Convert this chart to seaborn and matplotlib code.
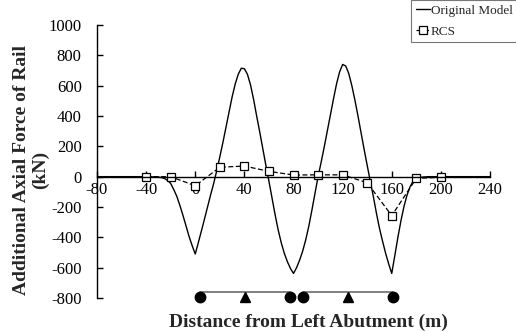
import numpy as np
import pandas as pd
import matplotlib
matplotlib.use("Agg")
import matplotlib.pyplot as plt
import seaborn as sns

# Original Model curve
orig_x = [-80, -40, -30, -27.5, -25, -22.5, -20, -17.5, -15, -12.5, -10, -7.5, -5, -2.5,
          0, 2.5, 5, 7.5, 10, 12.5, 15, 17.5, 20, 22.5, 25, 27.5, 30, 32.5, 35, 37.5,
          40, 42.5, 45, 47.5, 50, 52.5, 55, 57.5, 60, 62.5, 65, 67.5, 70, 72.5, 75, 77.5,
          80, 82.5, 85, 87.5, 90, 92.5, 95, 97.5, 100, 102.5, 105, 107.5, 110, 112.5, 115, 117.5,
          120, 122.5, 125, 127.5, 130, 132.5, 135, 137.5, 140, 142.5, 145, 147.5, 150, 152.5, 155, 157.5,
          160, 162.5, 165, 167.5, 170, 172.5, 175, 177.5, 180, 185, 190, 240]
orig_y = [0, 0, -3, -6, -12, -25, -45, -85, -130, -190, -255, -325, -395, -455,
          -510, -435, -358, -280, -200, -120, -45, 40, 130, 225, 325, 425, 525, 610, 675, 715,
          712, 675, 605, 510, 400, 295, 185, 75, -30, -140, -250, -350, -435, -505, -560, -605,
          -638, -600, -550, -490, -415, -325, -220, -110, 0, 95, 195, 300, 405, 510, 610, 690,
          740, 730, 680, 600, 505, 400, 290, 180, 75, -30, -130, -240, -340, -425, -505, -575,
          -638, -520, -400, -290, -195, -120, -65, -28, -10, -3, 0, 0]

# RCS points
rcs_x = [-40, -20, 0, 20, 40, 60, 80, 100, 120, 140, 160, 180, 200]
rcs_y = [0, 0, -60, 62, 70, 35, 11, 12, 12, -40, -257, -11, -4]

# bridge sketch along the bottom
pier_x = [4, 77, 88, 161]
bearing_x = [40.5, 124.5]
span_ends = [(4, 77), (88, 161)]

sns.set_style("ticks")
plt.rcParams['font.family'] = ['Liberation Serif', 'DejaVu Serif']
plt.rcParams['axes.unicode_minus'] = False

fig = plt.figure(figsize=(5.16, 3.32), dpi=100)
ax = fig.add_axes([97 / 516, 34 / 332, 393 / 516, 273 / 332])

sns.lineplot(x=orig_x, y=orig_y, ax=ax, color='black', linewidth=1.0,
             label='Original Model', legend=False)
sns.lineplot(x=rcs_x, y=rcs_y, ax=ax, color='black', linewidth=0.9,
             linestyle=(0, (4, 2)), marker='s', markersize=6,
             markerfacecolor='white', markeredgecolor='black', markeredgewidth=0.9,
             label='RCS', legend=False)

for a, b in span_ends:
    ax.plot([a, b], [-762, -762], color='#808080', linewidth=1.4, clip_on=False, zorder=2)
ax.plot(pier_x, [-793] * len(pier_x), linestyle='none', marker='o', markersize=7.5,
        color='black', clip_on=False, zorder=3)
ax.plot(bearing_x, [-795] * len(bearing_x), linestyle='none', marker='^', markersize=7,
        color='black', clip_on=False, zorder=3)

ax.set_xlim(-80, 240)
ax.set_ylim(-800, 1000)
ax.set_xticks(np.arange(-80, 241, 40))
ax.set_yticks(np.arange(-800, 1001, 200))

ax.spines['right'].set_visible(False)
ax.spines['top'].set_visible(False)
ax.spines['bottom'].set_position(('data', 0))
for s in ['left', 'bottom']:
    ax.spines[s].set_color('black')
    ax.spines[s].set_linewidth(1.0)
ax.tick_params(axis='both', direction='in', length=4, width=1.0, colors='black',
               labelsize=12)
ax.tick_params(axis='x', pad=4)
ax.tick_params(axis='y', pad=11)

fig.text(308 / 516, 10 / 332, 'Distance from Left Abutment (m)',
         ha='center', va='center', fontsize=14, fontweight='bold')
fig.text(31 / 516, 162 / 332, 'Additional Axial Force of Rail\n(kN)',
         ha='center', va='center', rotation=90, fontsize=14, fontweight='bold',
         linespacing=1.1)

leg = fig.legend(loc='upper left', bbox_to_anchor=(411 / 516, 1.0), fontsize=9.5,
                 frameon=True, fancybox=False, handlelength=1.1, handletextpad=0.05,
                 borderpad=0.35, labelspacing=0.65, borderaxespad=0.0)
leg.get_frame().set_edgecolor('#555555')
leg.get_frame().set_linewidth(0.8)

fig.savefig('out.png', dpi=100)
